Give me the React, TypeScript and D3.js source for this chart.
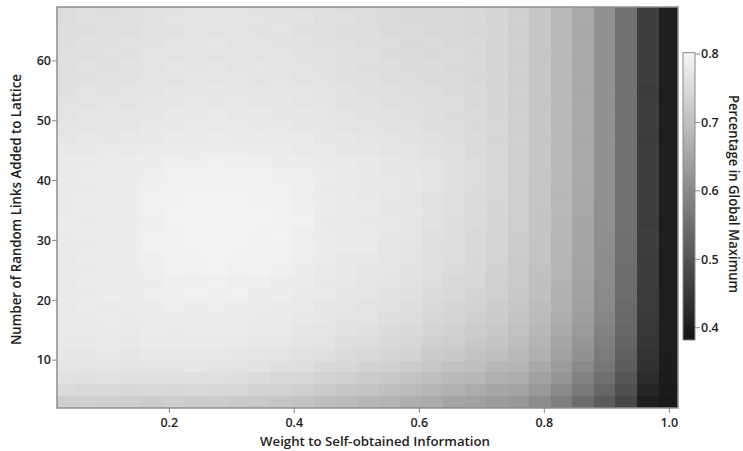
import React from "react";
import * as d3 from "d3";

// Weight to self-obtained information (column centres)
const weights = [0.034, 0.069, 0.103, 0.138, 0.172, 0.207, 0.241, 0.276, 0.310, 0.345, 0.379, 0.414, 0.448, 0.483, 0.517, 0.552, 0.586, 0.621, 0.655, 0.690, 0.724, 0.759, 0.793, 0.828, 0.862, 0.897, 0.931, 0.966, 1.0];
// Number of random links added (row centres, bottom to top)
const links = [3, 5, 7, 9, 11, 13, 15, 17, 19, 21, 23, 25, 27, 29, 31, 33, 35, 37, 39, 41, 43, 45, 47, 49, 51, 53, 55, 57, 59, 61, 63, 65, 67, 69];

const xTicks = [0.2, 0.4, 0.6, 0.8, 1.0];
const yTicks = [10, 20, 30, 40, 50, 60];
const cbTicks = [0.4, 0.5, 0.6, 0.7, 0.8];

// Percentage in global maximum, one row per link count (bottom to top)
const heat: number[][] = [
  [.729,.731,.727,.728,.724,.727,.723,.725,.720,.718,.712,.708,.700,.694,.685,.679,.669,.662,.651,.644,.632,.630,.605,.581,.547,.516,.477,.401,.392],
  [.751,.749,.750,.747,.749,.747,.748,.745,.744,.737,.735,.728,.723,.714,.709,.699,.693,.681,.675,.664,.656,.649,.629,.601,.571,.534,.494,.414,.395],
  [.763,.762,.763,.761,.762,.761,.762,.759,.757,.754,.749,.746,.737,.732,.724,.718,.709,.700,.691,.684,.672,.667,.644,.621,.587,.552,.505,.427,.397],
  [.771,.770,.772,.769,.771,.770,.772,.769,.767,.765,.760,.757,.749,.744,.737,.732,.723,.714,.705,.699,.687,.680,.658,.635,.602,.565,.515,.436,.398],
  [.775,.775,.777,.775,.777,.776,.778,.776,.775,.770,.769,.763,.759,.752,.748,.740,.735,.723,.718,.708,.700,.688,.671,.644,.615,.573,.524,.440,.399],
  [.778,.777,.780,.778,.781,.780,.782,.780,.780,.775,.775,.769,.766,.758,.756,.748,.744,.731,.727,.717,.709,.696,.680,.653,.624,.581,.531,.445,.400],
  [.780,.779,.782,.780,.783,.782,.785,.783,.783,.779,.779,.773,.771,.764,.761,.754,.750,.738,.734,.725,.717,.703,.687,.660,.632,.588,.536,.448,.401],
  [.781,.780,.783,.782,.784,.784,.786,.785,.785,.781,.781,.776,.774,.767,.766,.758,.755,.744,.740,.730,.722,.708,.692,.666,.637,.593,.540,.451,.400],
  [.780,.783,.782,.785,.783,.787,.786,.788,.785,.785,.781,.780,.775,.772,.767,.764,.757,.750,.743,.737,.725,.714,.695,.673,.640,.599,.541,.455,.401],
  [.782,.782,.785,.784,.787,.787,.790,.789,.790,.784,.785,.780,.779,.772,.771,.765,.762,.752,.748,.739,.731,.716,.701,.674,.646,.601,.546,.454,.400],
  [.780,.784,.783,.786,.785,.789,.788,.791,.788,.789,.783,.783,.778,.776,.771,.769,.763,.757,.749,.744,.732,.720,.701,.679,.647,.605,.546,.458,.400],
  [.782,.782,.785,.784,.788,.792,.791,.794,.791,.792,.789,.786,.779,.777,.772,.771,.764,.759,.752,.746,.734,.722,.704,.682,.649,.607,.547,.459,.400],
  [.780,.784,.783,.786,.789,.793,.792,.795,.792,.793,.790,.788,.784,.776,.776,.770,.768,.759,.755,.746,.738,.722,.708,.681,.653,.607,.551,.459,.400],
  [.782,.782,.785,.784,.792,.792,.795,.794,.795,.792,.793,.789,.784,.779,.779,.771,.769,.760,.757,.748,.740,.724,.709,.683,.655,.609,.552,.460,.400],
  [.781,.784,.783,.786,.791,.793,.796,.795,.796,.793,.794,.788,.784,.779,.779,.774,.770,.761,.758,.749,.741,.725,.710,.684,.656,.610,.553,.461,.400],
  [.783,.782,.785,.784,.789,.795,.794,.797,.794,.795,.792,.790,.782,.781,.777,.776,.771,.764,.757,.752,.740,.727,.709,.687,.655,.612,.554,.459,.400],
  [.782,.784,.783,.786,.790,.794,.796,.796,.795,.794,.792,.789,.784,.780,.779,.774,.772,.764,.759,.753,.742,.728,.711,.688,.657,.613,.554,.460,.400],
  [.781,.783,.785,.785,.791,.793,.795,.797,.796,.793,.793,.788,.783,.781,.778,.775,.771,.765,.760,.752,.743,.729,.712,.687,.658,.612,.555,.461,.400],
  [.782,.782,.784,.786,.789,.791,.792,.793,.792,.791,.790,.788,.782,.779,.778,.776,.772,.766,.761,.754,.744,.728,.713,.689,.659,.614,.554,.460,.400],
  [.780,.783,.785,.784,.788,.791,.791,.793,.793,.790,.789,.787,.784,.780,.777,.774,.773,.767,.762,.755,.745,.730,.713,.690,.660,.614,.556,.460,.400],
  [.781,.782,.783,.785,.786,.789,.788,.791,.789,.789,.786,.786,.782,.781,.778,.775,.771,.766,.761,.756,.745,.730,.714,.690,.660,.615,.555,.460,.400],
  [.778,.778,.781,.780,.783,.783,.786,.785,.786,.783,.784,.780,.780,.775,.775,.770,.769,.763,.761,.752,.745,.729,.715,.689,.661,.614,.556,.461,.400],
  [.772,.776,.775,.778,.778,.782,.781,.784,.781,.782,.779,.779,.775,.774,.770,.769,.764,.762,.757,.753,.743,.731,.713,.691,.659,.616,.554,.459,.400],
  [.771,.771,.774,.773,.777,.777,.780,.779,.780,.777,.778,.774,.774,.769,.769,.764,.763,.758,.757,.750,.744,.730,.715,.690,.660,.615,.555,.460,.400],
  [.767,.771,.770,.773,.773,.777,.776,.779,.776,.777,.774,.774,.770,.769,.765,.764,.759,.758,.754,.751,.742,.731,.714,.689,.661,.616,.554,.461,.400],
  [.767,.767,.770,.769,.773,.773,.776,.775,.776,.773,.774,.770,.770,.765,.765,.760,.759,.755,.755,.748,.743,.730,.713,.690,.660,.615,.555,.460,.400],
  [.762,.766,.765,.768,.769,.773,.772,.775,.772,.773,.770,.770,.766,.765,.761,.760,.755,.755,.751,.750,.741,.731,.714,.691,.659,.616,.556,.459,.400],
  [.762,.762,.765,.764,.769,.769,.772,.771,.772,.769,.770,.766,.766,.761,.761,.756,.755,.752,.752,.747,.742,.730,.715,.690,.661,.614,.555,.461,.400],
  [.759,.763,.762,.765,.766,.770,.769,.772,.769,.770,.767,.767,.763,.762,.758,.757,.752,.753,.750,.748,.740,.731,.714,.689,.660,.615,.554,.460,.400],
  [.760,.760,.763,.762,.767,.767,.770,.769,.770,.767,.768,.764,.764,.759,.759,.754,.753,.750,.751,.746,.741,.730,.713,.690,.661,.616,.555,.460,.400],
  [.757,.761,.760,.763,.764,.768,.767,.770,.767,.768,.765,.765,.761,.760,.756,.755,.750,.751,.748,.748,.740,.731,.714,.691,.660,.615,.556,.461,.400],
  [.758,.758,.761,.760,.765,.765,.768,.767,.768,.765,.766,.762,.762,.757,.757,.752,.751,.748,.750,.745,.742,.730,.715,.690,.659,.616,.555,.460,.400],
  [.756,.760,.759,.762,.763,.767,.766,.769,.766,.767,.764,.764,.760,.759,.755,.754,.749,.750,.748,.747,.740,.731,.714,.689,.660,.615,.554,.461,.400],
  [.755,.759,.758,.761,.764,.764,.767,.766,.767,.764,.765,.761,.761,.756,.756,.751,.750,.748,.749,.745,.741,.730,.715,.690,.660,.616,.556,.460,.400],
];

const FONT = "'Open Sans', 'DejaVu Sans', sans-serif";

export default function App() {
  const W = 743, H = 451;
  const L = 57, R = 678, T = 7, B = 408;
  const x = d3.scaleLinear().domain([0.0203, 1.0139]).range([L, R]);
  const y = d3.scaleLinear().domain([2, 69]).range([B, T]);
  const dx = 1 / 29, dy = 2;
  const cMin = 0.382, cMax = 0.802;
  const interp = d3.interpolateRgb("#141414", "#f6f6f6");
  const color = (v: number) => interp(Math.max(0, Math.min(1, (v - cMin) / (cMax - cMin))));

  const cb = d3.scaleLinear().domain([0.4, 0.8]).range([327.7, 54]);
  const cbL = 683, cbR = 695;
  const stops = d3.range(0, 1.0001, 0.05);

  const cells: JSX.Element[] = [];
  heat.forEach((row, i) => {
    row.forEach((v, j) => {
      const x0 = x(weights[j] - dx / 2), x1 = x(weights[j] + dx / 2);
      const y0 = y(links[i] + dy / 2), y1 = y(links[i] - dy / 2);
      cells.push(
        <rect key={`${i}-${j}`} x={x0} y={y0} width={x1 - x0 + 0.4} height={y1 - y0 + 0.4} fill={color(v)} />
      );
    });
  });

  const textFill = "#1e1e1e";

  return (
    <div style={{ position: "absolute", left: 0, top: 0, width: W, height: H, background: "#fff" }}>
      <svg width={W} height={H} style={{ display: "block" }}>
        <defs>
          <clipPath id="plotclip">
            <rect x={L} y={T} width={R - L} height={B - T} />
          </clipPath>
          <linearGradient id="cbgrad" x1="0" y1="1" x2="0" y2="0">
            {stops.map((t) => (
              <stop key={t} offset={t} stopColor={color(cMin + t * (cMax - cMin))} />
            ))}
          </linearGradient>
        </defs>
        <g clipPath="url(#plotclip)" shapeRendering="crispEdges">{cells}</g>
        <rect x={L} y={T} width={R - L} height={B - T} fill="none" stroke="#8e8e8e" strokeWidth={1.5} />

        {/* y axis */}
        {yTicks.map((t) => (
          <g key={t}>
            <line x1={L - 5} x2={L} y1={y(t)} y2={y(t)} stroke="#888" strokeWidth={1} />
            <text x={L - 6} y={y(t)} dy="0.35em" textAnchor="end" fontFamily={FONT} fontSize={12.5} fontWeight={600} fill={textFill}>
              {t}
            </text>
          </g>
        ))}
        {/* x axis */}
        {xTicks.map((t) => (
          <g key={t}>
            <line x1={x(t)} x2={x(t)} y1={B} y2={B + 5} stroke="#888" strokeWidth={1} />
            <text x={x(t)} y={426.5} textAnchor="middle" fontFamily={FONT} fontSize={12.5} fontWeight={600} fill={textFill}>
              {t.toFixed(1)}
            </text>
          </g>
        ))}
        <text x={375} y={445.5} textAnchor="middle" fontFamily={FONT} fontSize={13} fontWeight={600} fill={textFill} textLength={230} lengthAdjust="spacingAndGlyphs">
          Weight to Self-obtained Information
        </text>
        <text transform="translate(21,209.5) rotate(-90)" textAnchor="middle" fontFamily={FONT} fontSize={13.5} fontWeight={600} fill={textFill} textLength={271} lengthAdjust="spacingAndGlyphs">
          Number of Random Links Added to Lattice
        </text>

        {/* colour bar */}
        <rect x={cbL} y={cb(cMax)} width={cbR - cbL} height={cb(cMin) - cb(cMax)} fill="url(#cbgrad)" stroke="#8a8a8a" strokeWidth={1} />
        {cbTicks.map((t) => (
          <g key={t}>
            <line x1={cbR} x2={cbR + 5} y1={cb(t)} y2={cb(t)} stroke="#888" strokeWidth={1} />
            <text x={cbR + 6} y={cb(t)} dy="0.35em" textAnchor="start" fontFamily={FONT} fontSize={12.5} fontWeight={600} fill={textFill}>
              {t.toFixed(1)}
            </text>
          </g>
        ))}
        <text transform="translate(729,194) rotate(90)" textAnchor="middle" fontFamily={FONT} fontSize={13.5} fontWeight={600} fill={textFill} textLength={198} lengthAdjust="spacingAndGlyphs">
          Percentage in Global Maximum
        </text>
      </svg>
    </div>
  );
}
